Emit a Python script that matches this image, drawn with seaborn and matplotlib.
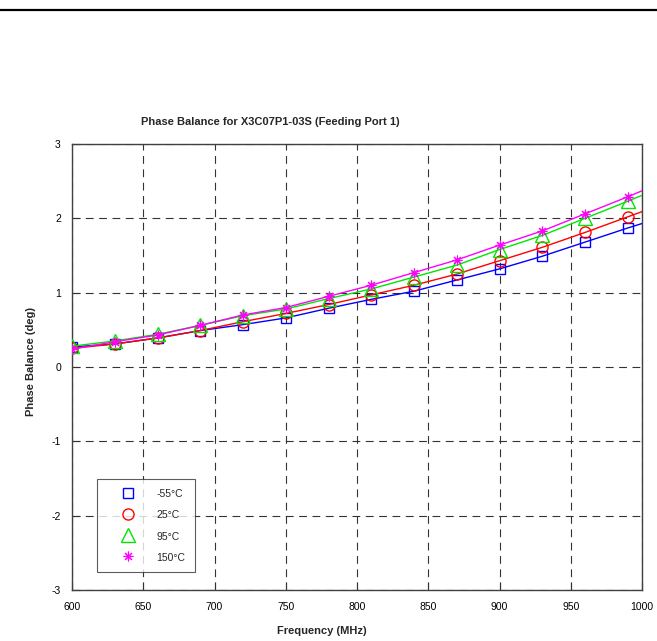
import numpy as np
import pandas as pd
import matplotlib
matplotlib.use("Agg")
import matplotlib.pyplot as plt
from matplotlib.lines import Line2D
import seaborn as sns

# measured frequency points (MHz); the curves run on to 1000 MHz
freq = [600, 630, 660, 690, 720, 750, 780, 810, 840, 870, 900, 930, 960, 990, 1000]

# phase balance (deg) per temperature, last value = curve end at 1000 MHz
pb_m55 = [0.27, 0.31, 0.39, 0.49, 0.57, 0.66, 0.79, 0.91, 1.02, 1.17, 1.32, 1.49, 1.68, 1.87, 1.93]
pb_25 = [0.25, 0.31, 0.39, 0.49, 0.61, 0.72, 0.84, 0.97, 1.10, 1.25, 1.43, 1.61, 1.81, 2.02, 2.09]
pb_95 = [0.28, 0.35, 0.44, 0.56, 0.69, 0.78, 0.92, 1.05, 1.21, 1.37, 1.58, 1.77, 2.00, 2.23, 2.31]
pb_150 = [0.24, 0.34, 0.43, 0.56, 0.70, 0.80, 0.95, 1.10, 1.27, 1.44, 1.64, 1.83, 2.06, 2.29, 2.37]

labels = ["-55°C", "25°C", "95°C", "150°C"]
colors = ["#0000FF", "#FF0000", "#00E600", "#FF00FF"]
markers = ["s", "o", "^", (8, 2, 0)]
msizes = [7.0, 8.0, 9.5, 7.0]
medges = [1.0, 1.0, 1.0, 0.8]

x_ticks = [600, 650, 700, 750, 800, 850, 900, 950, 1000]
y_ticks = [-3, -2, -1, 0, 1, 2, 3]

sns.set_style("white")
plt.rcParams["font.family"] = ["Liberation Sans", "DejaVu Sans"]
plt.rcParams["axes.unicode_minus"] = False

fig = plt.figure(figsize=(6.57, 6.41), dpi=100)
ax = fig.add_axes([72 / 657, 1 - 590 / 641, 570 / 657, 446 / 641])

df = pd.DataFrame({"freq": freq, labels[0]: pb_m55, labels[1]: pb_25,
                   labels[2]: pb_95, labels[3]: pb_150})
n_meas = len(freq) - 1

handles = []
for lab, col, mk, ms, mew in zip(labels, colors, markers, msizes, medges):
    sns.lineplot(data=df, x="freq", y=lab, ax=ax, color=col, lw=1.0,
                 marker=mk, markersize=ms, markevery=list(range(n_meas)),
                 markerfacecolor="none", markeredgecolor=col,
                 markeredgewidth=mew, legend=False, zorder=3)
    handles.append(Line2D([], [], ls="none", marker=mk, markersize=ms,
                          markerfacecolor="none", markeredgecolor=col,
                          markeredgewidth=mew, label=lab))

ax.set_xlim(600, 1000)
ax.set_ylim(-3, 3)
ax.set_xticks(x_ticks)
ax.set_yticks(y_ticks)
ax.set_xlabel("")
ax.set_ylabel("")
ax.grid(True, color="#333333", linestyle=(0, (7, 5)), linewidth=0.8)
ax.tick_params(direction="in", length=6, width=0.8, colors="#333333",
               labelcolor="black", labelsize=7.5, left=True, bottom=True)
ax.tick_params(axis="x", pad=9)
ax.tick_params(axis="y", pad=8)
for sp in ax.spines.values():
    sp.set_color("#404040")
    sp.set_linewidth(1.0)

leg = ax.legend(handles=handles, loc="lower left", bbox_to_anchor=(0.044, 0.040),
                fontsize=7.5, frameon=True, fancybox=False, numpoints=1,
                borderpad=0.9, handlelength=4.2, handletextpad=0.6,
                labelspacing=1.0, handleheight=1.2, borderaxespad=0)
leg.get_frame().set_edgecolor("#333333")
leg.get_frame().set_linewidth(0.8)

fig.text(270 / 657, 1 - 122 / 641, "Phase Balance for X3C07P1-03S (Feeding Port 1)",
         ha="center", va="center", fontsize=8, fontweight="bold")
fig.text(322 / 657, 1 - 631 / 641, "Frequency (MHz)", ha="center", va="center",
         fontsize=8, fontweight="bold")
fig.text(31 / 657, 1 - 362 / 641, "Phase Balance (deg)", ha="center", va="center",
         rotation=90, fontsize=8, fontweight="bold")

# heavy rule across the top of the page
fig.add_artist(Line2D([0, 1], [1 - 10 / 641, 1 - 10 / 641], color="black",
                      lw=1.6, transform=fig.transFigure))

fig.savefig("out.png", dpi=100)
